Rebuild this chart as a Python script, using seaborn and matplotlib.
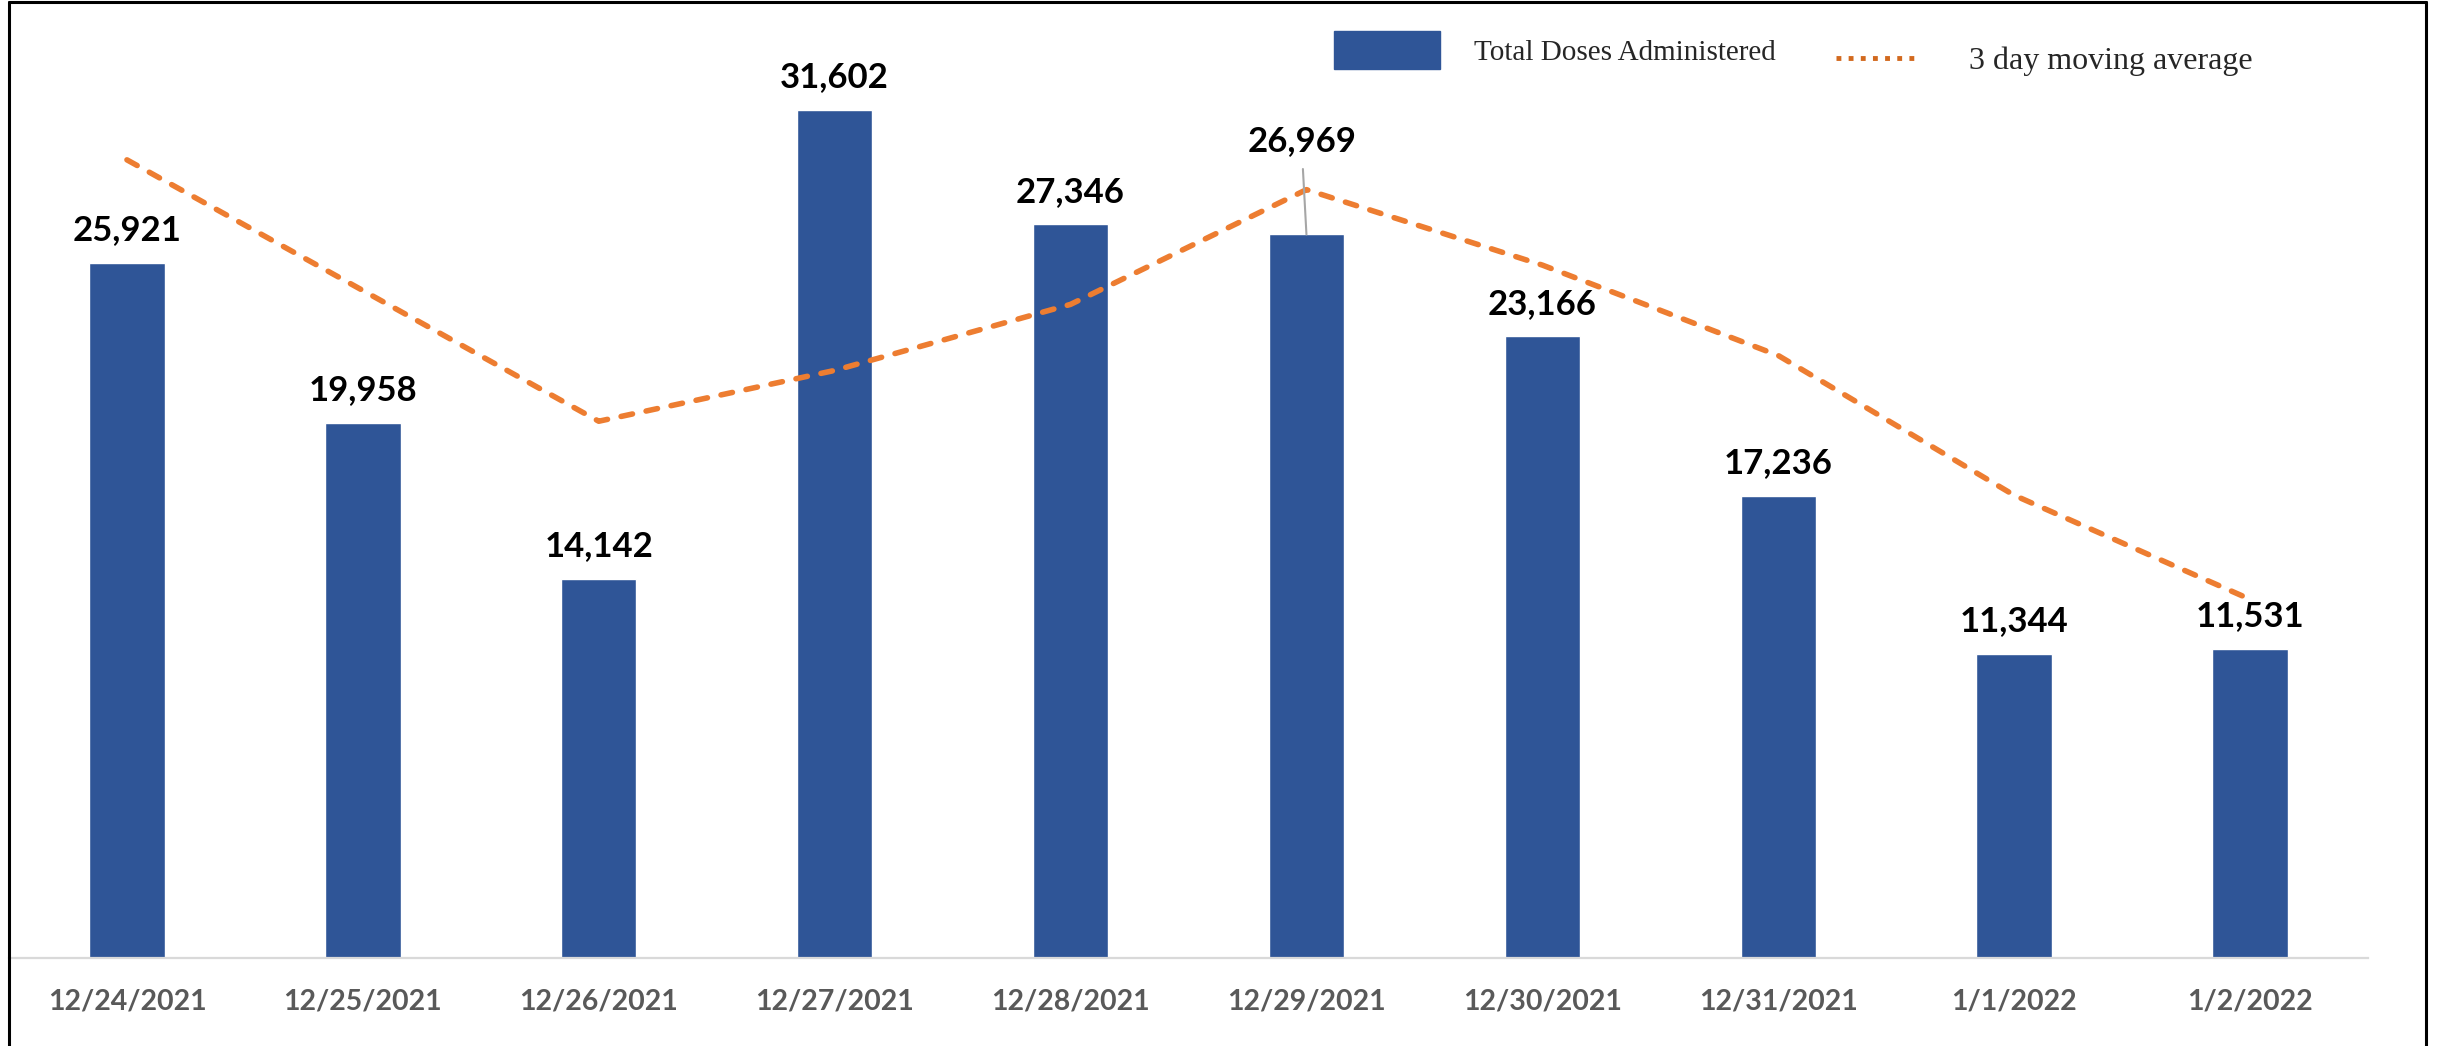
import pandas as pd
import numpy as np
import matplotlib
matplotlib.use("Agg")
import matplotlib.pyplot as plt
from matplotlib.patches import Patch
from matplotlib.lines import Line2D
import seaborn as sns

# chart data
dates = ["12/24/2021", "12/25/2021", "12/26/2021", "12/27/2021", "12/28/2021",
         "12/29/2021", "12/30/2021", "12/31/2021", "1/1/2022", "1/2/2022"]
doses = [25921, 19958, 14142, 31602, 27346, 26969, 23166, 17236, 11344, 11531]
moving_avg = [29750, 24880, 20007, 21901, 24363, 28639, 25827, 22457, 17249, 13370]

bar_color = "#2F5597"
line_color = "#ED7D31"

sns.set_style("white")
plt.rcParams['font.family'] = ['Lato', 'DejaVu Sans']

df = pd.DataFrame({"date": dates, "doses": doses, "avg": moving_avg})
df["pos"] = np.arange(len(df))

fig = plt.figure(figsize=(24.4, 10.46), dpi=100)
ax = fig.add_axes([9 / 2440, 1 - 958 / 1046, (2368 - 9) / 2440, (958 - 19) / 1046])

sns.barplot(data=df, x="date", y="doses", color=bar_color, width=0.32,
            saturation=1, ax=ax)
sns.lineplot(data=df, x="pos", y="avg", color=line_color, lw=4, sort=False,
             ax=ax, dashes=False)
ln = ax.lines[-1]
ln.set_dashes([2.1, 2.5])
ln.set_dash_capstyle("round")

ax.set_xlim(-0.5, len(dates) - 0.5)
ax.set_ylim(0, 35000)
ax.set_xlabel("")
ax.set_ylabel("")
ax.set_yticks([])
for s in ["top", "right", "left"]:
    ax.spines[s].set_visible(False)
ax.spines["bottom"].set_color("#D9D9D9")
ax.spines["bottom"].set_linewidth(1.6)
ax.tick_params(axis="x", length=0, pad=22, labelsize=20.5, labelcolor="#595959")
for lab in ax.get_xticklabels():
    lab.set_fontweight("bold")

# value labels
for i, v in enumerate(doses):
    if dates[i] == "12/29/2021":
        ax.annotate(f"{v:,}", (i, v), xytext=(-3, 67), textcoords="offset points",
                    ha="center", va="center", fontsize=25, fontweight="bold",
                    color="black",
                    arrowprops=dict(arrowstyle="-", color="#A6A6A6", lw=1.5,
                                    relpos=(0.5, 0), shrinkA=6, shrinkB=0))
    else:
        ax.annotate(f"{v:,}", (i, v), xytext=(0, 23.5), textcoords="offset points",
                    ha="center", va="center", fontsize=25, fontweight="bold",
                    color="black")

# legend (two pieces, the handles have different lengths)
leg1 = fig.legend([Patch(facecolor=bar_color, edgecolor=bar_color)],
                  ["Total Doses Administered"],
                  loc="center left", bbox_to_anchor=(1334 / 2440, 1 - 50 / 1046),
                  frameon=False, borderpad=0, borderaxespad=0,
                  handlelength=3.63, handleheight=1.6, handletextpad=1.16,
                  prop={"family": "Liberation Serif", "size": 21})
leg2 = fig.legend([Line2D([0], [0], color="#D2691E", lw=3.5, ls=(0, (1, 1.5)))],
                  ["3 day moving average"],
                  loc="center left", bbox_to_anchor=(1836 / 2440, 1 - 61 / 1046),
                  frameon=False, borderpad=0, borderaxespad=0,
                  handlelength=2.57, handletextpad=1.6,
                  prop={"family": "Liberation Serif", "size": 23})

# outer frame
for xs, ys in [([9 / 2440, 9 / 2440], [0, 1 - 2 / 1046]),
               ([9 / 2440, 2426 / 2440], [1 - 2 / 1046, 1 - 2 / 1046]),
               ([2426 / 2440, 2426 / 2440], [0, 1 - 2 / 1046])]:
    fig.add_artist(Line2D(xs, ys, color="black", lw=2.2, transform=fig.transFigure))

fig.savefig("out.png", dpi=100, facecolor="white")
